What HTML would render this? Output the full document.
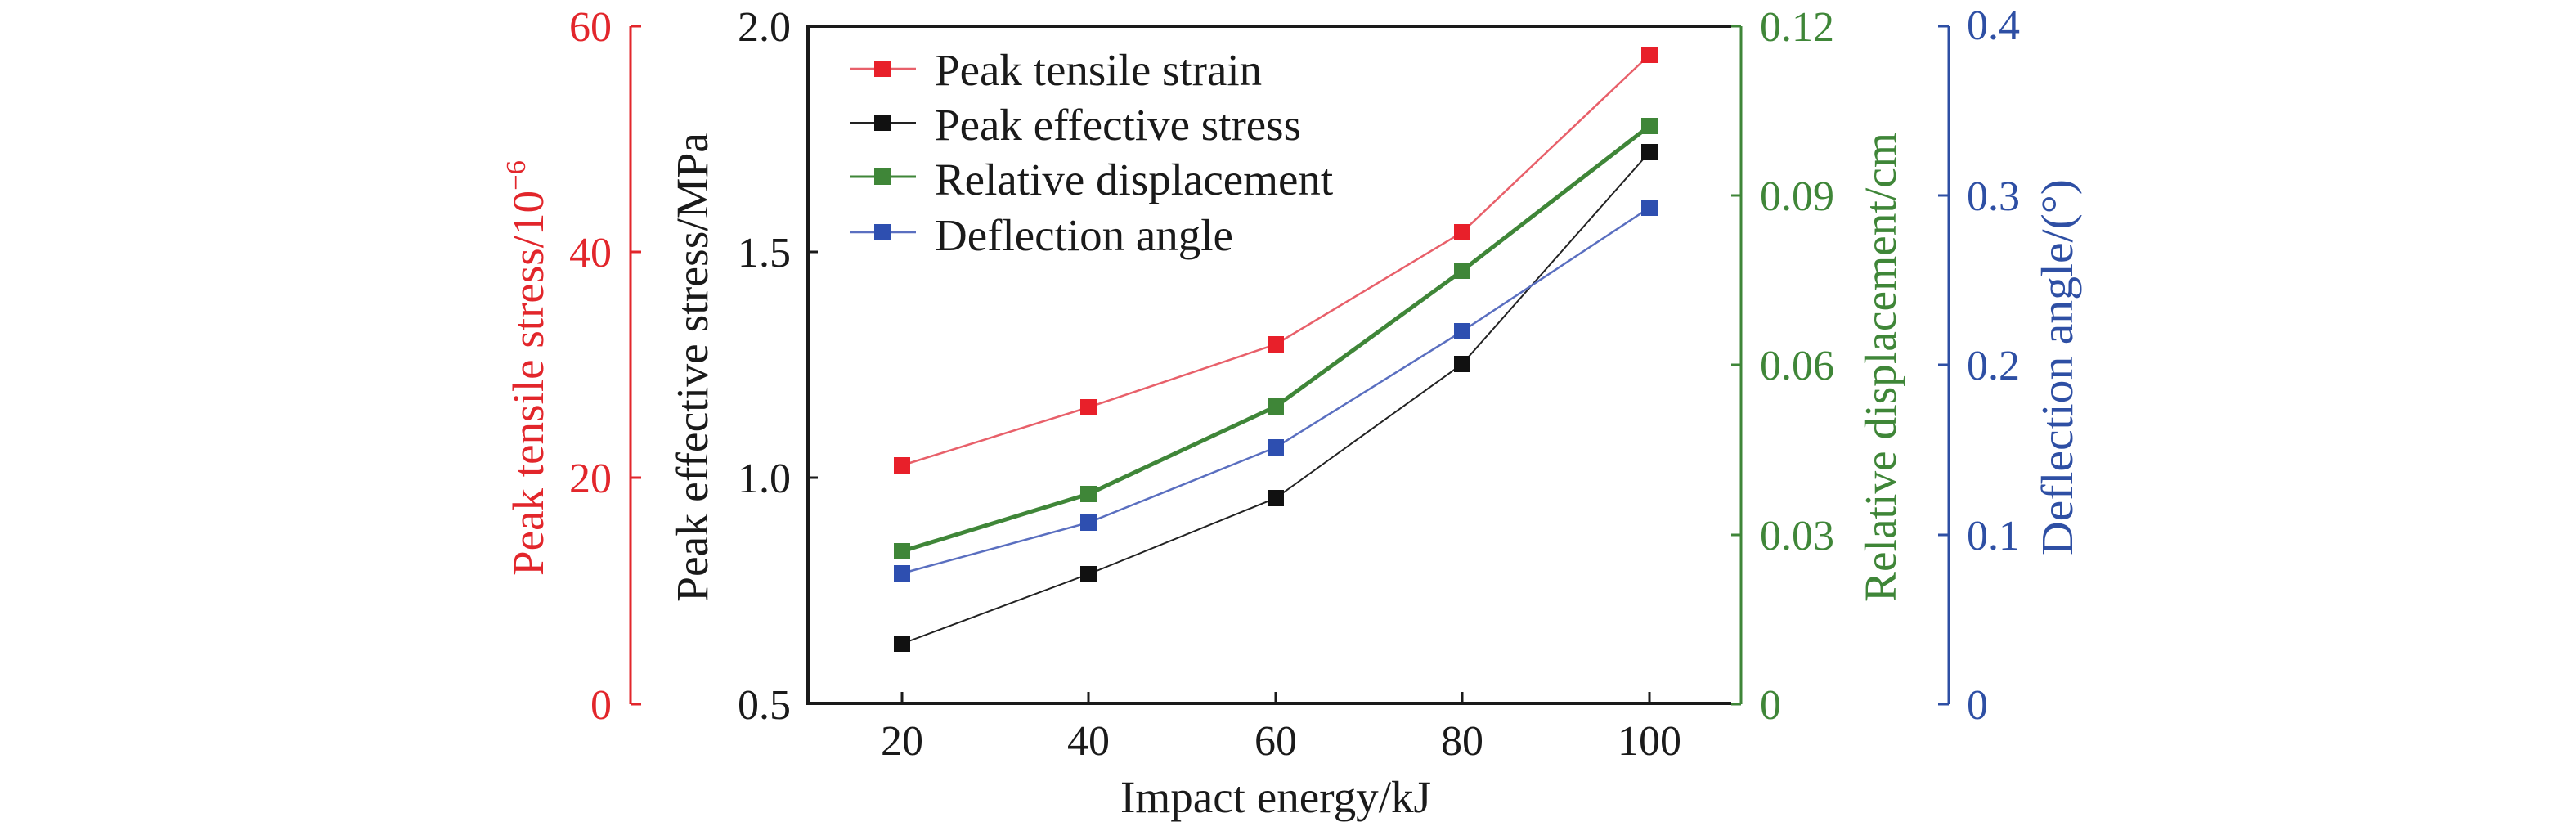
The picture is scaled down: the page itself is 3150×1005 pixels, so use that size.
<!DOCTYPE html>
<html><head><meta charset="utf-8"><style>
html,body{margin:0;padding:0;background:#fff;}
svg{display:block;}
text{font-family:"Liberation Serif",serif;}
</style></head><body>
<svg width="3150" height="1005" viewBox="0 0 3150 1005" xmlns="http://www.w3.org/2000/svg">
<rect width="3150" height="1005" fill="#fff"/>
<!-- red axis -->
<g stroke="#e2262b" stroke-width="3" fill="none">
<line x1="771" y1="32" x2="771" y2="861"/>
<line x1="771" y1="32" x2="784" y2="32"/><line x1="771" y1="308" x2="784" y2="308"/>
<line x1="771" y1="584" x2="784" y2="584"/>
<line x1="771" y1="861" x2="784" y2="861"/>
</g>
<g fill="#e2262b" font-size="52" text-anchor="end">
<text x="748" y="50">60</text><text x="748" y="326">40</text><text x="748" y="602">20</text><text x="748" y="879">0</text>
</g>
<text transform="translate(664,450) rotate(-90)" fill="#e2262b" font-size="54" text-anchor="middle" textLength="508" lengthAdjust="spacingAndGlyphs">Peak tensile stress/10<tspan font-size="34" dy="-22">−6</tspan></text>
<!-- black axis -->
<g stroke="#1a1a1a" stroke-width="4" fill="none">
<polyline points="2117,32 988,32 988,860 2117,860"/>
</g>
<g stroke="#1a1a1a" stroke-width="3">
<line x1="988" y1="308" x2="1000" y2="308"/><line x1="988" y1="584" x2="1000" y2="584"/>
<line x1="1103" y1="846" x2="1103" y2="860"/><line x1="1331" y1="846" x2="1331" y2="860"/><line x1="1560" y1="846" x2="1560" y2="860"/><line x1="1788" y1="846" x2="1788" y2="860"/><line x1="2017" y1="846" x2="2017" y2="860"/>
</g>
<g fill="#1a1a1a" font-size="52" text-anchor="end">
<text x="967" y="50">2.0</text><text x="967" y="326">1.5</text><text x="967" y="602">1.0</text><text x="967" y="879">0.5</text>
</g>
<text transform="translate(865,449) rotate(-90)" fill="#1a1a1a" font-size="55" text-anchor="middle" textLength="574" lengthAdjust="spacingAndGlyphs">Peak effective stress/MPa</text>
<g fill="#1a1a1a" font-size="52" text-anchor="middle">
<text x="1103" y="923">20</text><text x="1331" y="923">40</text><text x="1560" y="923">60</text><text x="1788" y="923">80</text><text x="2017" y="923">100</text>
</g>
<text x="1560" y="993" fill="#1a1a1a" font-size="55" text-anchor="middle" textLength="380" lengthAdjust="spacingAndGlyphs">Impact energy/kJ</text>
<!-- green axis -->
<g stroke="#3f8638" stroke-width="3" fill="none">
<line x1="2129" y1="32" x2="2129" y2="861"/>
<line x1="2117" y1="32" x2="2129" y2="32"/><line x1="2117" y1="239" x2="2129" y2="239"/><line x1="2117" y1="446" x2="2129" y2="446"/><line x1="2117" y1="654" x2="2129" y2="654"/><line x1="2117" y1="861" x2="2129" y2="861"/>
</g>
<g fill="#3f8638" font-size="52">
<text x="2152" y="50">0.12</text><text x="2152" y="257">0.09</text><text x="2152" y="464">0.06</text><text x="2152" y="672">0.03</text><text x="2152" y="879">0</text>
</g>
<text transform="translate(2318,449) rotate(-90)" fill="#3f8638" font-size="55" text-anchor="middle" textLength="574" lengthAdjust="spacingAndGlyphs">Relative displacement/cm</text>
<!-- blue axis -->
<g stroke="#2e4fa4" stroke-width="3" fill="none">
<line x1="2383" y1="32" x2="2383" y2="861"/>
<line x1="2370" y1="32" x2="2383" y2="32"/><line x1="2370" y1="239" x2="2383" y2="239"/><line x1="2370" y1="446" x2="2383" y2="446"/><line x1="2370" y1="654" x2="2383" y2="654"/><line x1="2370" y1="861" x2="2383" y2="861"/>
</g>
<g fill="#2e4fa4" font-size="52">
<text x="2405" y="48">0.4</text><text x="2405" y="257">0.3</text><text x="2405" y="464">0.2</text><text x="2405" y="672">0.1</text><text x="2405" y="879">0</text>
</g>
<text transform="translate(2534,449) rotate(-90)" fill="#2e4fa4" font-size="55" text-anchor="middle" textLength="460" lengthAdjust="spacingAndGlyphs">Deflection angle/(°)</text>
<!-- series -->
<polyline points="1103,569 1331,498 1560,421 1788,284 2017,67" fill="none" stroke="#e8606a" stroke-width="2.5"/>
<polyline points="1103,787 1331,702 1560,609 1788,445 2017,186" fill="none" stroke="#222" stroke-width="2"/>
<polyline points="1103,674 1331,604 1560,497 1788,331 2017,154" fill="none" stroke="#3f8638" stroke-width="5"/>
<polyline points="1103,701 1331,639 1560,547 1788,405 2017,254" fill="none" stroke="#5a6fc0" stroke-width="2.5"/>
<g fill="#e8202a"><rect x="1093" y="559" width="20" height="20"/><rect x="1321" y="488" width="20" height="20"/><rect x="1550" y="411" width="20" height="20"/><rect x="1778" y="274" width="20" height="20"/><rect x="2007" y="57" width="20" height="20"/></g>
<g fill="#111"><rect x="1093" y="777" width="20" height="20"/><rect x="1321" y="692" width="20" height="20"/><rect x="1550" y="599" width="20" height="20"/><rect x="1778" y="435" width="20" height="20"/><rect x="2007" y="176" width="20" height="20"/></g>
<g fill="#3f8638"><rect x="1093" y="664" width="20" height="20"/><rect x="1321" y="594" width="20" height="20"/><rect x="1550" y="487" width="20" height="20"/><rect x="1778" y="321" width="20" height="20"/><rect x="2007" y="144" width="20" height="20"/></g>
<g fill="#2e4fb0"><rect x="1093" y="691" width="20" height="20"/><rect x="1321" y="629" width="20" height="20"/><rect x="1550" y="537" width="20" height="20"/><rect x="1778" y="395" width="20" height="20"/><rect x="2007" y="244" width="20" height="20"/></g>
<!-- legend -->
<line x1="1040" y1="84" x2="1120" y2="84" stroke="#e8606a" stroke-width="2.5"/><rect x="1069" y="74" width="20" height="20" fill="#e8202a"/>
<line x1="1040" y1="150" x2="1120" y2="150" stroke="#222" stroke-width="2"/><rect x="1069" y="140" width="20" height="20" fill="#111"/>
<line x1="1040" y1="216" x2="1120" y2="216" stroke="#3f8638" stroke-width="3"/><rect x="1069" y="206" width="20" height="20" fill="#3f8638"/>
<line x1="1040" y1="284" x2="1120" y2="284" stroke="#5a6fc0" stroke-width="2.5"/><rect x="1069" y="274" width="20" height="20" fill="#2e4fb0"/>
<g fill="#1a1a1a" font-size="55">
<text x="1143" y="104">Peak tensile strain</text>
<text x="1143" y="171">Peak effective stress</text>
<text x="1143" y="238">Relative displacement</text>
<text x="1143" y="306">Deflection angle</text>
</g>
</svg>
</body></html>
